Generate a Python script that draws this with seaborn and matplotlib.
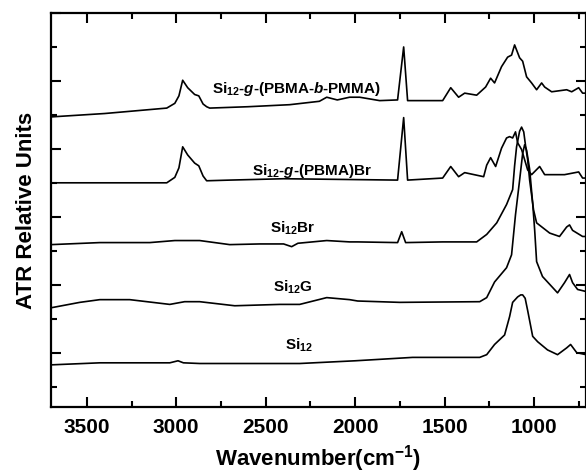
import numpy as np
import pandas as pd
import seaborn as sns
import matplotlib.pyplot as plt
from matplotlib.ticker import MultipleLocator

# ATR spectra (wavenumber in cm-1, stacked intensity in arbitrary units)
si12_wn = [3700, 3427, 3036, 2990, 2960, 2869, 2310, 2000, 1679, 1304, 1265, 1221, 1165, 1137,
           1120, 1092, 1075, 1064, 1050, 1036, 1008, 980, 925, 869, 818, 796, 762, 710]
si12_int = [0.82, 0.85, 0.85, 0.88, 0.85, 0.84, 0.84, 0.88, 0.93, 0.93, 0.97, 1.12, 1.26, 1.53,
            1.74, 1.82, 1.85, 1.85, 1.80, 1.62, 1.24, 1.16, 1.04, 0.97, 1.07, 1.12, 1.00, 0.97]

si12g_wn = [3700, 3539, 3427, 3260, 3036, 2953, 2869, 2673, 2422, 2310, 2159, 2031, 1986, 1751,
            1304, 1265, 1221, 1154, 1126, 1104, 1081, 1064, 1053, 1042, 1025, 1008, 997, 986,
            953, 897, 869, 830, 802, 785, 757, 710]
si12g_int = [1.66, 1.74, 1.78, 1.78, 1.71, 1.75, 1.75, 1.69, 1.71, 1.71, 1.81, 1.78, 1.76, 1.74,
             1.75, 1.81, 2.04, 2.25, 2.44, 3.03, 3.54, 3.93, 4.06, 3.98, 3.70, 3.20, 2.81, 2.34,
             2.12, 1.96, 1.88, 2.03, 2.15, 2.03, 1.93, 1.90]

si12br_wn = [3700, 3427, 3148, 3008, 2869, 2701, 2534, 2400, 2355, 2320, 2159, 2031, 1986, 1763,
             1740, 1718, 1511, 1321, 1265, 1209, 1154, 1120, 1109, 1098, 1081, 1070, 1058, 1047,
             1036, 1025, 1003, 986, 913, 858, 818, 802, 785, 729, 710]
si12br_int = [2.59, 2.62, 2.62, 2.65, 2.65, 2.59, 2.60, 2.60, 2.56, 2.61, 2.65, 2.63, 2.63, 2.62,
              2.78, 2.62, 2.63, 2.63, 2.74, 2.91, 3.18, 3.40, 3.75, 4.03, 4.26, 4.32, 4.25, 4.03,
              3.84, 3.54, 3.10, 2.91, 2.76, 2.71, 2.85, 2.88, 2.80, 2.71, 2.71]

pbma_wn = [3700, 3148, 3053, 3008, 2985, 2964, 2936, 2897, 2874, 2850, 2830, 2700, 2400, 1763,
           1729, 1707, 1511, 1466, 1422, 1388, 1282, 1265, 1243, 1215, 1182, 1154, 1137, 1120,
           1104, 1092, 1070, 1036, 1014, 969, 941, 913, 830, 751, 729, 710]
pbma_int = [3.50, 3.50, 3.50, 3.58, 3.72, 4.03, 3.91, 3.79, 3.75, 3.60, 3.53, 3.54, 3.56, 3.54,
            4.46, 3.54, 3.57, 3.74, 3.59, 3.65, 3.59, 3.76, 3.87, 3.74, 4.01, 4.16, 4.18, 4.16,
            4.25, 4.09, 3.99, 3.69, 3.62, 3.74, 3.62, 3.62, 3.62, 3.66, 3.57, 3.57]

pmma_wn = [3700, 3400, 3053, 3008, 2985, 2964, 2936, 2897, 2874, 2850, 2830, 2813, 2600, 2366,
           2200, 2159, 2100, 2031, 1975, 1863, 1763, 1729, 1707, 1511, 1466, 1422, 1388, 1321,
           1271, 1243, 1221, 1182, 1148, 1126, 1109, 1081, 1064, 1042, 1014, 986, 958, 941, 902,
           818, 790, 751, 729, 710]
pmma_int = [4.47, 4.52, 4.60, 4.67, 4.78, 5.01, 4.90, 4.80, 4.78, 4.66, 4.62, 4.60, 4.62, 4.65,
            4.70, 4.76, 4.72, 4.76, 4.76, 4.71, 4.72, 5.50, 4.71, 4.71, 4.90, 4.76, 4.82, 4.79,
            4.91, 5.04, 4.97, 5.21, 5.35, 5.38, 5.53, 5.34, 5.29, 5.06, 4.97, 4.87, 4.97, 4.91,
            4.84, 4.87, 4.84, 4.90, 4.82, 4.82]

labels = [r'Si$_{12}$', r'Si$_{12}$G', r'Si$_{12}$Br',
          r'Si$_{12}$-$\mathit{g}$-(PBMA)Br', r'Si$_{12}$-$\mathit{g}$-(PBMA-$\mathit{b}$-PMMA)']
label_wn = [2394, 2461, 2478, 2578, 2802]
label_int = [1.04, 1.90, 2.76, 3.62, 4.82]

spectra = [(si12_wn, si12_int), (si12g_wn, si12g_int), (si12br_wn, si12br_int),
           (pbma_wn, pbma_int), (pmma_wn, pmma_int)]

sns.set_style('ticks', {'axes.edgecolor': 'black', 'xtick.color': 'black',
                        'ytick.color': 'black', 'text.color': 'black',
                        'axes.labelcolor': 'black'})
plt.rcParams['font.family'] = ['Liberation Sans', 'DejaVu Sans']
plt.rcParams['font.weight'] = 'bold'
plt.rcParams['mathtext.fontset'] = 'custom'
plt.rcParams['mathtext.rm'] = 'Liberation Sans:bold'
plt.rcParams['mathtext.bf'] = 'Liberation Sans:bold'
plt.rcParams['mathtext.it'] = 'Liberation Sans:italic:bold'
plt.rcParams['mathtext.default'] = 'bf'

fig = plt.figure(figsize=(5.86, 4.74), dpi=100)
ax = fig.add_axes([0.087, 0.1414, 0.913, 0.8312])

for (wn, inten), name in zip(spectra, labels):
    df = pd.DataFrame({'wn': wn, 'int': inten})
    sns.lineplot(data=df, x='wn', y='int', ax=ax, color='black', linewidth=1.2,
                 estimator=None, sort=False)

for name, x, y in zip(labels, label_wn, label_int):
    ax.text(x, y, name, fontsize=11, fontweight='bold', ha='left', va='baseline')

ax.set_xlim(3700, 710)
ax.set_ylim(0.2, 6.0)
ax.xaxis.set_major_locator(MultipleLocator(500))
ax.xaxis.set_minor_locator(MultipleLocator(250))
ax.yaxis.set_major_locator(MultipleLocator(1))
ax.yaxis.set_minor_locator(MultipleLocator(0.5))
ax.tick_params(which='both', direction='in', top=True, right=True, width=1.5, color='black')
ax.tick_params(which='major', length=7, labelsize=15, pad=8)
ax.tick_params(which='minor', length=4)
ax.set_yticklabels([])
for lab in ax.get_xticklabels():
    lab.set_fontweight('bold')
for sp in ax.spines.values():
    sp.set_linewidth(1.6)
    sp.set_color('black')

ax.set_xlabel(r'Wavenumber(cm$^{\mathrm{-1}}$)', fontsize=16, fontweight='bold', labelpad=4)
ax.set_ylabel('ATR Relative Units', fontsize=16, fontweight='bold', labelpad=2)

fig.savefig('out.png', dpi=100)
